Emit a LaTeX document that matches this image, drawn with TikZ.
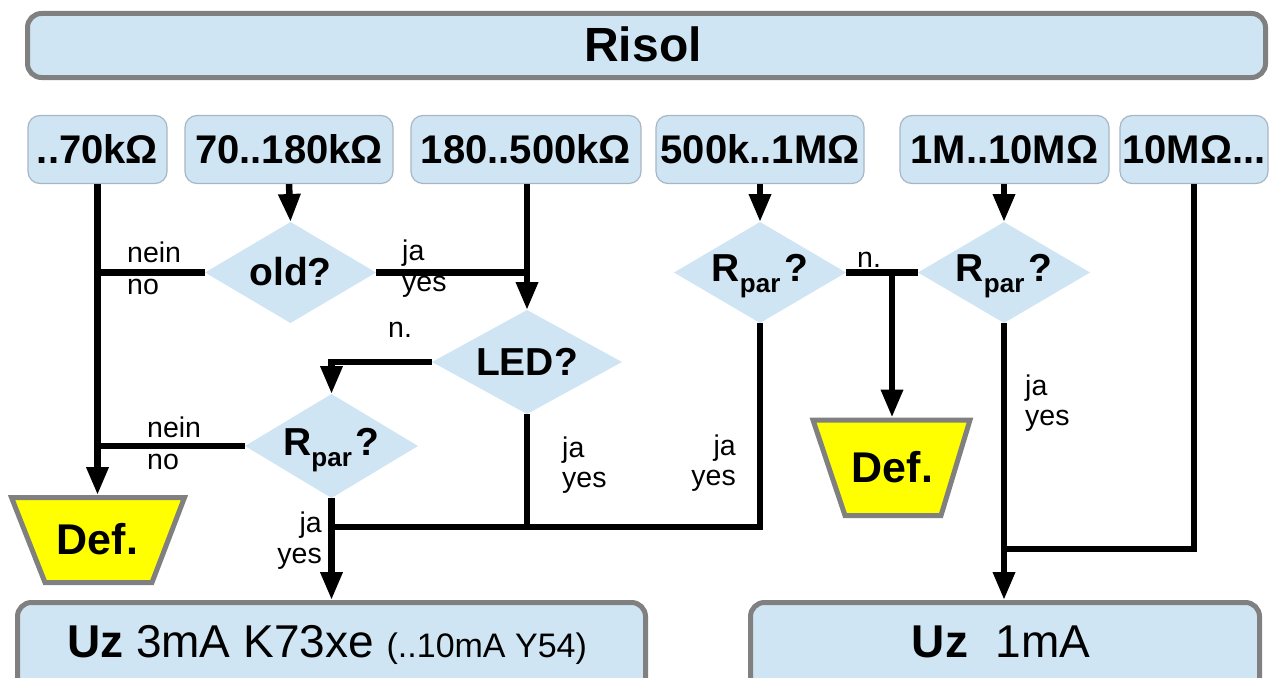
\documentclass[tikz,border=0pt]{standalone}
\usepackage{fontspec}
\setmainfont{Liberation Sans}
\usetikzlibrary{shapes.geometric,arrows.meta}
\definecolor{boxblue}{RGB}{207,229,243}
\definecolor{thinedge}{RGB}{168,182,196}
\definecolor{darkedge}{RGB}{128,128,128}
\definecolor{defyellow}{RGB}{255,255,0}
\newcommand{\fs}[1]{\fontsize{#1}{#1}\selectfont}
\newcommand{\cbox}[2]{\smash{\makebox[0pt][c]{\raisebox{#1}{#2}}}}
\newcommand{\rpar}{R\raisebox{-11pt}{\fs{26}par}\hspace{4pt}?}
\tikzset{
  bigbox/.style={rectangle, rounded corners=14pt, fill=boxblue, draw=darkedge, line width=5pt, inner sep=0pt},
  rangebox/.style={rectangle, rounded corners=12pt, fill=boxblue, draw=thinedge, line width=1.2pt, inner sep=0pt, minimum height=68pt, font=\fs{40}\bfseries},
  question/.style={diamond, fill=boxblue, draw=none, inner sep=0pt, outer sep=0pt, font=\fs{39}\bfseries},
  defshape/.style={fill=defyellow, draw=darkedge, line width=5pt, line join=miter},
  deftext/.style={inner sep=0pt, font=\fs{43}\bfseries},
  lbl/.style={inner sep=0pt, font=\fs{28.5}},
  ln/.style={line width=6.5pt, line join=miter, draw=black},
  arr/.style={ln, -{Triangle[length=28pt, width=21pt]}},
}
\begin{document}
\begin{tikzpicture}[x=1pt, y=-1pt]
\useasboundingbox (0,0) rectangle (1271,677);
\clip (0,0) rectangle (1271,677);

% title
\node[bigbox, minimum width=1238pt, minimum height=64pt] (title) at (646.5,45.5) {};
\node[inner sep=0pt, anchor=base, font=\fs{48}\bfseries] (titletext) at (643,62) {Risol};

% range boxes
\node[rangebox, minimum width=139pt] (b1) at (97.5,149.5) {..70kΩ};
\node[rangebox, minimum width=208pt] (b2) at (289,149.5) {70..180kΩ};
\node[rangebox, minimum width=230pt] (b3) at (526,149.5) {180..500kΩ};
\node[rangebox, minimum width=208pt] (b4) at (760,149.5) {500k..1MΩ};
\node[rangebox, minimum width=209pt] (b5) at (1004.5,149.5) {1M..10MΩ};
\node[rangebox, minimum width=148pt] (b6) at (1194,149.5) {10MΩ...};

% decisions
\node[question, minimum width=171pt, minimum height=101pt] (old) at (290.5,272.5) {\cbox{-13pt}{old?}};
\node[question, minimum width=190pt, minimum height=104pt] (led) at (527,362) {\cbox{-13pt}{LED?}};
\node[question, minimum width=173pt, minimum height=104pt] (rp1) at (331.5,446) {\cbox{-9pt}{\rpar}};
\node[question, minimum width=172pt, minimum height=101pt] (rp2) at (760,272.5) {\cbox{-8.5pt}{\rpar}};
\node[question, minimum width=172pt, minimum height=101pt] (rp3) at (1004,272.5) {\cbox{-8.5pt}{\rpar}};

% defect boxes
\draw[defshape] (11.5,497.5) -- (184.5,497.5) -- (152,582.5) -- (45,582.5) -- cycle;
\node[deftext] (def1) at (97.5,539) {Def.};
\coordinate (def1top) at (97.5,495);
\draw[defshape] (813,420) -- (970,420) -- (941,515.5) -- (845,515.5) -- cycle;
\node[deftext] (def2) at (892.5,467.5) {Def.};
\coordinate (def2top) at (892,417.5);

% result boxes
\node[bigbox, minimum width=628pt, minimum height=120pt] (uz1) at (331.5,662.5) {};
\node[inner sep=0pt, anchor=base, font=\fs{46}] (uz1text) at (327,657) {\textbf{Uz} 3mA K73xe {\fs{34}(..10mA Y54)}};
\node[bigbox, minimum width=509pt, minimum height=120pt] (uz2) at (1005,662.5) {};
\node[inner sep=0pt, anchor=base, font=\fs{46}] (uz2text) at (1001,657) {\textbf{Uz}\hspace{0.6em}1mA};

% junction coordinates
\coordinate (j1) at (331.5,527);
\coordinate (j2) at (527,527);
\coordinate (j4) at (892,272.5);
\coordinate (j5) at (1004,549);

% connectors
\draw[arr] (b1.south) -- (def1top);
\draw[ln] (old.west) -- (old.west -| b1.south);
\draw[arr] (b2.south) -- (old.north);
\draw[ln] (old.east) -- (old.east -| led.north);
\draw[arr] (b3.south -| led.north) -- (led.north);
\draw[arr] (led.west) -| (rp1.north);
\draw[ln] (rp1.west) -- (rp1.west -| b1.south);
\draw[arr] (rp1.south) -- (rp1.south |- uz1.north);
\draw[ln] (led.south) -- (j2);
\draw[ln] (rp2.south) |- (j1);
\draw[arr] (b4.south) -- (rp2.north);
\draw[ln] (rp2.east) -- (rp3.west);
\draw[arr] (j4) -- (def2top);
\draw[arr] (b5.south -| rp3.north) -- (rp3.north);
\draw[arr] (rp3.south) -- (rp3.south |- uz2.north);
\draw[ln] (b6.south) |- (j5);

% labels
\node[lbl, anchor=base west] (l1) at (127,262) {nein};
\node[lbl, anchor=base west] (l2) at (127,294) {no};
\node[lbl, anchor=base west] (l3) at (402,260) {ja};
\node[lbl, anchor=base west] (l4) at (402,291) {yes};
\node[lbl, anchor=base west] (l5) at (388,337) {n.};
\node[lbl, anchor=base west] (l6) at (147,437) {nein};
\node[lbl, anchor=base west] (l7) at (147,469) {no};
\node[lbl, anchor=base west] (l8) at (562,457) {ja};
\node[lbl, anchor=base west] (l9) at (562,487) {yes};
\node[lbl, anchor=base east] (l10) at (322,532) {ja};
\node[lbl, anchor=base east] (l11) at (322,563) {yes};
\node[lbl, anchor=base east] (l12) at (736,455) {ja};
\node[lbl, anchor=base east] (l13) at (736,485) {yes};
\node[lbl, anchor=base west] (l14) at (857,267) {n.};
\node[lbl, anchor=base west] (l15) at (1025,395) {ja};
\node[lbl, anchor=base west] (l16) at (1025,425) {yes};
\end{tikzpicture}
\end{document}
